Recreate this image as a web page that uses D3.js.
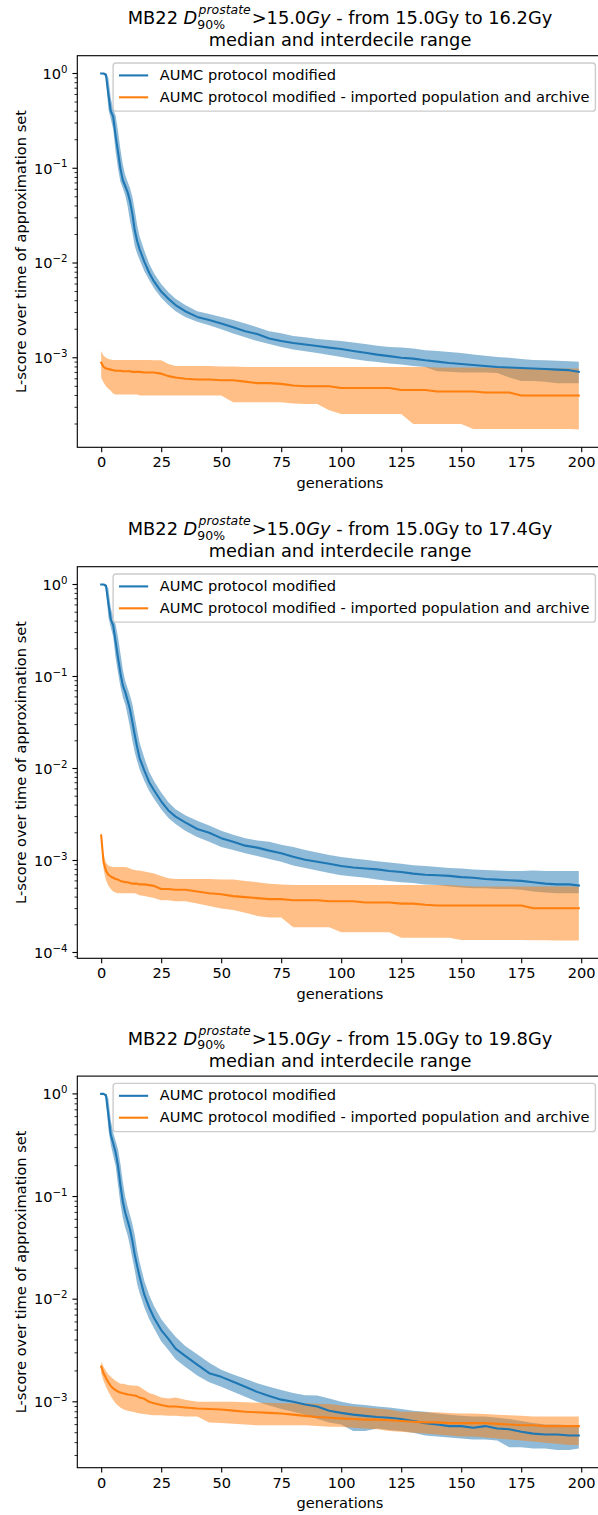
<!DOCTYPE html>
<html>
<head>
<meta charset="utf-8">
<script src="https://cdn.jsdelivr.net/npm/d3@7"></script>
<style>
  body { margin: 0; background: #fff; }
  svg { display: block; }
  text { font-family: "DejaVu Sans", sans-serif; fill: #000; white-space: pre; }
</style>
</head>
<body>
<svg id="fig" width="598" height="1515"></svg>
<script>
// Generations at which the statistics are recorded
const gens = [0,1,2,3,4,5,6,7,8,9,10,11,12,13,14,15,16,
  18,20,22,25,28,31,35,40,45,
  50,55,60,65,70,75,80,85,90,95,
  100,105,110,115,120,125,130,135,140,145,
  150,155,160,165,170,175,180,185,190,195,
  199];

const seriesNames = ["AUMC protocol modified",
  "AUMC protocol modified - imported population and archive"];
const seriesColors = ["#1f77b4", "#ff7f0e"];
const upperDoses = ["16.2", "17.4", "19.8"];
const xTickValues = [0, 25, 50, 75, 100, 125, 150, 175, 200];

// ---- 15.0Gy to 16.2Gy ----
const p1BlueMed = [1,1,.97,.6,.4,.35,.22,.15,.1,.075,.065,.056,.045,.033,.022,.017,.014,
  .0103,.0079,.0064,.005,.0042,.0036,.0031,.0027,.0025,
  .0023,.0021,.0019,.00178,.0016,.0015,.00143,.00138,.00133,.00128,
  .00124,.00118,.00113,.00108,.00104,.001,.00098,.00094,.00091,.00088,
  .00086,.00084,.00082,.0008,.00079,.00078,.00077,.00076,.00075,.00074,
  .00071];
const p1BlueLo = [1,.99,.9,.42,.33,.26,.15,.1,.072,.062,.052,.04,.028,.021,.015,.0125,.0108,
  .0082,.0066,.0054,.0043,.0036,.0031,.0027,.0024,.0022,
  .002,.0018,.00165,.0015,.0014,.0013,.00122,.00117,.00112,.00107,
  .00102,.00097,.00093,.0009,.00087,.00085,.00082,.0008,.00072,.00071,
  .0007,.0007,.0007,.00069,.00062,.00057,.00057,.00056,.00054,.00054,
  .00054];
const p1BlueHi = [1,1,1,.9,.55,.42,.36,.25,.16,.11,.085,.072,.062,.05,.036,.025,.019,
  .0135,.0098,.0078,.006,.0049,.0042,.0036,.0031,.0029,
  .0027,.0025,.0023,.0021,.0019,.00182,.0017,.00165,.00158,.00154,
  .0015,.00145,.0014,.00134,.0013,.00128,.00125,.0012,.00118,.00115,
  .00112,.00108,.00105,.00102,.001,.00097,.00095,.00094,.00093,.00092,
  .00091];
const p1OrMed = [.00089,.0008,.00077,.00076,.00075,.00074,.00073,.00073,.00073,.00072,.00072,.00072,.00072,.00071,.00071,.00071,.00071,
  .0007,.0007,.0007,.00068,.00064,.00062,.0006,.00059,.00059,
  .00058,.00058,.00056,.00054,.00054,.00053,.00051,.0005,.0005,.0005,
  .00048,.00048,.00048,.00048,.00048,.000457,.000457,.000457,.00044,.00044,
  .00044,.00044,.00043,.00043,.00043,.0004,.0004,.0004,.0004,.0004,
  .0004];
const p1OrLo = [.00062,.00055,.0005,.00047,.00045,.00042,.00041,.00041,.00041,.00041,.00041,.00041,.00041,.00041,.00041,.00041,.0004,
  .0004,.0004,.0004,.0004,.0004,.0004,.0004,.0004,.0004,
  .0004,.00034,.00034,.00034,.00034,.00034,.00033,.000325,.000325,.00028,
  .000255,.000255,.000255,.000255,.000255,.000255,.0002,.0002,.0002,.0002,
  .0002,.000177,.000177,.000177,.000177,.000177,.000177,.000177,.000177,.000177,
  .000175];
const p1OrHi = [.00118,.00105,.001,.00097,.00096,.00095,.00095,.00095,.00095,.00095,.00095,.00095,.00095,.00095,.00095,.00095,.00095,
  .00095,.00095,.00094,.00094,.00086,.00082,.00082,.00082,.00082,
  .00081,.00081,.0008,.0008,.0008,.0008,.0008,.0008,.0008,.0008,
  .0008,.0008,.0008,.0008,.0008,.0008,.0008,.0008,.00079,.00079,
  .00079,.00079,.00079,.00078,.00078,.00077,.00077,.00077,.00077,.00077,
  .00077];

// ---- 15.0Gy to 17.4Gy ----
const p2BlueMed = [1,1,.97,.62,.42,.36,.24,.16,.11,.08,.068,.055,.044,.032,.023,.017,.013,
  .0095,.0071,.0058,.0044,.0035,.003,.0026,.0022,.002,
  .00175,.0016,.00145,.00138,.00128,.0012,.0011,.00102,.00097,.00092,
  .00087,.00084,.00082,.0008,.00077,.00075,.00072,.0007,.00069,.00068,
  .00066,.00065,.00063,.00062,.00061,.0006,.00058,.00056,.00055,.00055,
  .000535];
const p2BlueLo = [1,.99,.9,.44,.34,.27,.16,.11,.078,.06,.05,.038,.028,.02,.015,.012,.0098,
  .0073,.0057,.0047,.0036,.0029,.0025,.0021,.0018,.0016,
  .0014,.0013,.0012,.00112,.00104,.00097,.00088,.00083,.00078,.00073,
  .00069,.00067,.00065,.00062,.0006,.00058,.00057,.00055,.00054,.00052,
  .00051,.0005,.0005,.00049,.00049,.00048,.00046,.00045,.00044,.00044,
  .00044];
const p2BlueHi = [1,1,1,.9,.56,.44,.37,.27,.18,.12,.09,.075,.062,.05,.036,.026,.019,
  .013,.0092,.0073,.0055,.0043,.0036,.0031,.0027,.0024,
  .0021,.0019,.00175,.00165,.0016,.00148,.0014,.0013,.00122,.00115,
  .00109,.00105,.00102,.00098,.00095,.00092,.00089,.00087,.00085,.00083,
  .00082,.0008,.00079,.00078,.00077,.00077,.00078,.00077,.00077,.00077,
  .00077];
const p2OrMed = [.00187,.00095,.00078,.0007,.00067,.00065,.00063,.00062,.0006,.00059,.00058,.00058,.00057,.00056,.00056,.00056,.00055,
  .00055,.00054,.00053,.00049,.00049,.00048,.00048,.00046,.00044,
  .00043,.00041,.0004,.00039,.00038,.00038,.00037,.00037,.00037,.00036,
  .00036,.00036,.00035,.00035,.00035,.00034,.00034,.00033,.000324,.000324,
  .000324,.000324,.000324,.000324,.000324,.000324,.000303,.000303,.000303,.000303,
  .000303];
const p2OrLo = [.00165,.0008,.00061,.00053,.00049,.00046,.00045,.00044,.00044,.00044,.00044,.00044,.00044,.00044,.00044,.00043,.00042,
  .00041,.0004,.00039,.00037,.00037,.00036,.00036,.00034,.00032,
  .0003,.00029,.00027,.00025,.00024,.00024,.000188,.000188,.000188,.000188,
  .000166,.000166,.000166,.000166,.000166,.000145,.000145,.000145,.000145,.000145,
  .000137,.000137,.000137,.000137,.000137,.000137,.000136,.000136,.000135,.000135,
  .000135];
const p2OrHi = [.0021,.00115,.00095,.00088,.00086,.00085,.00085,.00085,.00085,.00085,.00085,.00084,.00082,.0008,.00079,.00078,.00078,
  .00076,.00074,.00072,.00068,.00064,.00063,.00063,.00063,.00063,
  .00062,.00062,.0006,.00058,.00056,.00055,.00054,.00054,.00054,.00054,
  .00054,.00054,.00054,.00054,.00054,.00054,.00054,.00054,.00054,.00054,
  .00053,.00052,.00052,.00052,.00052,.00052,.00052,.00052,.00052,.00052,
  .00052];

// ---- 15.0Gy to 19.8Gy ----
const p3BlueMed = [1,1,.97,.62,.4,.33,.27,.2,.13,.09,.07,.058,.048,.037,.027,.021,.0165,
  .011,.0083,.0066,.005,.0041,.0033,.0028,.0023,.0019,
  .00175,.00157,.0014,.00125,.00114,.00105,.001,.00094,.0009,.00082,
  .00078,.00075,.00073,.00071,.0007,.00068,.00065,.00062,.0006,.00058,
  .00058,.00056,.00058,.00055,.00054,.00051,.00049,.00048,.00048,.00047,
  .00047];
const p3BlueLo = [1,.99,.9,.45,.32,.25,.2,.13,.085,.062,.05,.042,.033,.025,.019,.014,.0115,
  .0083,.0064,.0052,.0039,.0032,.0026,.0022,.0018,.00155,
  .0014,.00125,.00112,.001,.00092,.00085,.0008,.00075,.00068,.00063,
  .0006,.00052,.00052,.00055,.00053,.00052,.0005,.00047,.00046,.00045,
  .00044,.00043,.00043,.00042,.00036,.00036,.00035,.00035,.00034,.00034,
  .00035];
const p3BlueHi = [1,1,1,.9,.55,.42,.35,.29,.21,.14,.1,.08,.066,.054,.042,.03,.023,
  .015,.011,.0086,.0064,.0052,.0043,.0035,.0029,.0024,
  .00205,.00185,.00168,.00152,.0014,.0013,.00122,.00116,.00115,.00108,
  .001,.00095,.00093,.0009,.00088,.00085,.00082,.0008,.00077,.00075,
  .00073,.00072,.00072,.0007,.00068,.00065,.00062,.0006,.0006,.00059,
  .00059];
const p3OrMed = [.0022,.0019,.0017,.00155,.00143,.00135,.0013,.00126,.00123,.00121,.0012,.00118,.00117,.00116,.00115,.00113,.0011,
  .00107,.001,.00097,.00093,.0009,.0009,.00088,.00086,.00085,
  .00084,.00082,.0008,.00079,.00078,.00077,.00075,.00073,.00071,.0007,
  .00069,.00068,.00067,.00067,.00066,.00065,.00064,.00063,.00063,.00062,
  .00062,.00062,.00062,.00061,.0006,.00059,.00059,.00058,.00058,.00058,
  .00058];
const p3OrLo = [.0019,.0016,.0014,.00125,.00113,.00104,.00097,.00092,.00088,.00085,.00083,.00082,.00081,.0008,.00079,.00078,.00077,
  .00076,.00075,.00074,.00074,.00073,.00073,.00072,.00072,.00063,
  .00062,.00061,.0006,.00059,.00059,.00059,.00059,.00059,.00058,.00057,
  .00057,.00056,.00055,.00054,.00052,.00051,.0005,.00049,.00048,.00047,
  .00046,.00046,.00045,.00044,.00043,.00042,.00041,.0004,.00039,.00038,
  .00038];
const p3OrHi = [.00246,.0022,.002,.00185,.00175,.00168,.0016,.00155,.0015,.0015,.00148,.00146,.00145,.00144,.00143,.00143,.0014,
  .0013,.00122,.00118,.0011,.00108,.0011,.00105,.001,.001,
  .001,.001,.00099,.00098,.00098,.00097,.00097,.00097,.00096,.00095,
  .00092,.0009,.00088,.00086,.00084,.0008,.0008,.00079,.00079,.00078,
  .00077,.00077,.00076,.00075,.00074,.00073,.00072,.00072,.00072,.00072,
  .00072];

const panels = [
  { dose: upperDoses[0], med: [p1BlueMed, p1OrMed], lo: [p1BlueLo, p1OrLo], hi: [p1BlueHi, p1OrHi] },
  { dose: upperDoses[1], med: [p2BlueMed, p2OrMed], lo: [p2BlueLo, p2OrLo], hi: [p2BlueHi, p2OrHi] },
  { dose: upperDoses[2], med: [p3BlueMed, p3OrMed], lo: [p3BlueLo, p3OrLo], hi: [p3BlueHi, p3OrHi] }
];

// ---- layout (matplotlib-like metrics) ----
const PT = 100 / 72;
const FS = 14.6, TFS = 17.8;
const TICK = 3.5 * PT, MINOR = 2 * PT, PAD = 3.5 * PT;
const axLeft = 77.3, axRight = 602.7;
const axTops = [55.7, 566.7, 1076.1], axH = 391.6;

const svg = d3.select("#fig");

function drawPanel(p, top) {
  const bottom = top + axH;
  const g = svg.append("g");

  // x: default 5% margins around the generations
  const gMin = d3.min(gens), gMax = d3.max(gens), gm = 0.05 * (gMax - gMin);
  const x = d3.scaleLinear().domain([gMin - gm, gMax + gm]).range([axLeft, axRight]);

  // y: log scale with 5% margin in decades
  const all = [].concat(...p.lo, ...p.hi, ...p.med);
  const lmin = Math.log10(d3.min(all)), lmax = Math.log10(d3.max(all));
  const lm = 0.05 * (lmax - lmin);
  const y = d3.scaleLog().domain([10 ** (lmin - lm), 10 ** (lmax + lm)]).range([bottom, top]);

  const clipId = "clip" + Math.round(top);
  svg.append("clipPath").attr("id", clipId).append("rect")
    .attr("x", axLeft).attr("y", top).attr("width", axRight - axLeft).attr("height", axH);

  const plot = g.append("g").attr("clip-path", `url(#${clipId})`);

  // interdecile bands
  [0, 1].forEach(s => {
    const area = d3.area()
      .x((d, i) => x(gens[i]))
      .y0((d, i) => y(p.lo[s][i]))
      .y1((d, i) => y(p.hi[s][i]));
    plot.append("path").attr("d", area(gens))
      .attr("fill", seriesColors[s]).attr("fill-opacity", 0.5).attr("stroke", "none");
  });
  // medians
  [0, 1].forEach(s => {
    const line = d3.line().x((d, i) => x(gens[i])).y((d, i) => y(p.med[s][i]));
    plot.append("path").attr("d", line(gens))
      .attr("fill", "none").attr("stroke", seriesColors[s])
      .attr("stroke-width", 1.5 * PT).attr("stroke-linejoin", "round").attr("stroke-linecap", "square");
  });

  // x axis
  const xa = g.append("g").attr("transform", `translate(0,${bottom})`)
    .call(d3.axisBottom(x).tickValues(xTickValues).tickSize(TICK).tickPadding(PAD).tickFormat(d3.format("d")));
  xa.select(".domain").remove();
  xa.selectAll(".tick line").attr("stroke", "#000").attr("stroke-width", 0.8 * PT);
  xa.selectAll(".tick text").attr("font-size", FS).attr("font-family", "DejaVu Sans").attr("fill", "#000");

  // y axis: decades with superscript exponents, plus minor ticks
  const [d0, d1] = y.domain();
  const e0 = Math.ceil(Math.log10(d0) - 1e-9), e1 = Math.floor(Math.log10(d1) + 1e-9);
  const majors = d3.range(e0, e1 + 1).map(e => 10 ** e);
  const minors = [];
  for (let e = Math.floor(Math.log10(d0)); e <= e1; e++)
    for (let k = 2; k <= 9; k++) { const v = k * 10 ** e; if (v >= d0 && v <= d1) minors.push(v); }

  const ya = g.append("g");
  ya.selectAll("line.minor").data(minors).join("line")
    .attr("x1", axLeft - MINOR).attr("x2", axLeft).attr("y1", d => y(d)).attr("y2", d => y(d))
    .attr("stroke", "#000").attr("stroke-width", 0.6 * PT);
  ya.selectAll("line.major").data(majors).join("line")
    .attr("x1", axLeft - TICK).attr("x2", axLeft).attr("y1", d => y(d)).attr("y2", d => y(d))
    .attr("stroke", "#000").attr("stroke-width", 0.8 * PT);
  majors.forEach(v => {
    const e = Math.round(Math.log10(v));
    const t = ya.append("text").attr("x", axLeft - TICK - PAD).attr("y", y(v) + 0.36 * FS)
      .attr("text-anchor", "end").attr("font-size", FS);
    t.append("tspan").text("10");
    t.append("tspan").attr("dy", -0.42 * FS).attr("font-size", FS * 0.7)
      .text(e < 0 ? "\u2212" + (-e) : String(e));
  });

  // spines
  g.append("rect").attr("x", axLeft).attr("y", top).attr("width", axRight - axLeft).attr("height", axH)
    .attr("fill", "none").attr("stroke", "#000").attr("stroke-width", 0.8 * PT);

  // axis labels
  g.append("text").attr("x", (axLeft + axRight) / 2).attr("y", bottom + 40.5)
    .attr("text-anchor", "middle").attr("font-size", FS).text("generations");
  g.append("text").attr("transform", `translate(25.5,${top + axH / 2}) rotate(-90)`)
    .attr("text-anchor", "middle").attr("font-size", FS).text("L-score over time of approximation set");

  // title
  drawTitle(g, (axLeft + axRight) / 2, top - 9.3, p.dose);

  // legend
  drawLegend(g, top);
}

function drawTitle(g, cx, base2, dose) {
  g.append("text").attr("x", cx).attr("y", base2).attr("text-anchor", "middle")
    .attr("font-size", TFS).text("median and interdecile range");

  const base1 = base2 - 22;
  const tg = g.append("g");
  let cur = 0;
  const put = (str, opts = {}) => {
    const t = tg.append("text").attr("x", cur + (opts.dx || 0)).attr("y", base1 + (opts.dy || 0))
      .attr("font-size", opts.size || TFS).attr("font-style", opts.italic ? "italic" : null).text(str);
    return t.node().getComputedTextLength();
  };
  cur += put("MB22 ");
  cur += put("D", { italic: true });
  const wSup = put("prostate", { italic: true, size: TFS * 0.7, dy: -0.56 * TFS, dx: 1.2 });
  const wSub = put("90%", { size: TFS * 0.7, dy: 0.24 * TFS });
  cur += Math.max(wSup + 1.2, wSub) + 1;
  cur += put(">15.0");
  cur += put("Gy", { italic: true });
  cur += put(" - from 15.0Gy to " + dose + "Gy");
  tg.attr("transform", `translate(${cx - cur / 2},0)`);
}

function drawLegend(g, top) {
  const lg = g.append("g");
  const texts = seriesNames.map((s, i) =>
    lg.append("text").attr("font-size", FS).text(s));
  const tw = d3.max(texts, t => t.node().getComputedTextLength());
  const bp = 0.4 * FS, hl = 2 * FS, hp = 0.8 * FS, rowH = FS, sp = 0.5 * FS;
  const w = bp + hl + hp + tw + bp;
  const h = 2 * bp + 2 * rowH + sp;
  const right = axRight - 0.5 * FS, lt = top + 0.5 * FS, left = right - w;
  lg.insert("rect", "text").attr("x", left).attr("y", lt).attr("width", w).attr("height", h)
    .attr("rx", 0.2 * FS).attr("fill", "#fff").attr("fill-opacity", 0.8)
    .attr("stroke", "#cccccc").attr("stroke-width", 1 * PT);
  texts.forEach((t, i) => {
    const rowTop = lt + bp + i * (rowH + sp);
    const base = rowTop + 0.76 * FS;
    const mid = rowTop + 0.5 * rowH - 0.05 * FS;
    t.attr("x", left + bp + hl + hp).attr("y", base);
    lg.append("line").attr("x1", left + bp).attr("x2", left + bp + hl).attr("y1", mid).attr("y2", mid)
      .attr("stroke", seriesColors[i]).attr("stroke-width", 1.5 * PT);
  });
}

panels.forEach((p, i) => drawPanel(p, axTops[i]));
</script>
</body>
</html>
